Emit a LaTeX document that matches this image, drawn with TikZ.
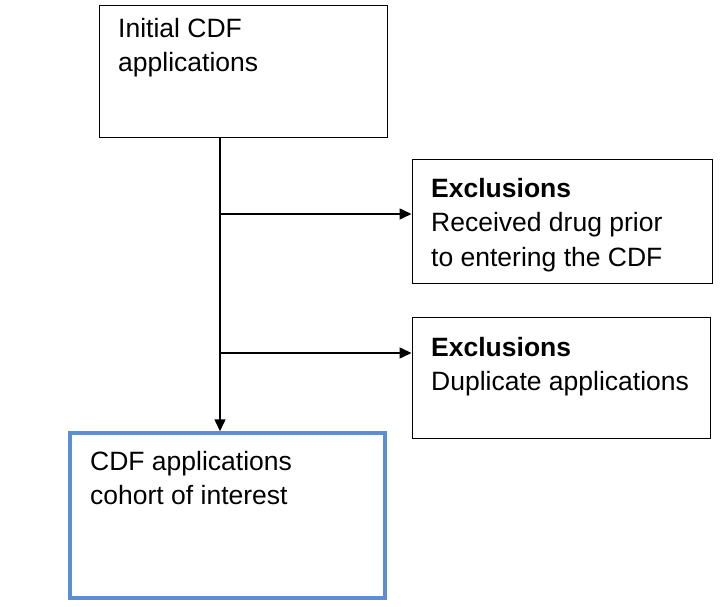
\documentclass[tikz,border=0pt]{standalone}
\usepackage{fontspec}
\setmainfont{Liberation Sans}
\usetikzlibrary{arrows.meta}
\begin{document}
\begin{tikzpicture}[x=1pt,y=-1pt,
  box/.style={draw=black,line width=1pt,inner sep=0pt},
  txt/.style={anchor=north west,align=left,inner sep=0pt,font=\fontsize{26.5}{34.5}\selectfont},
  arr/.style={line width=1.5pt,-{Triangle[length=12pt,width=11pt]}}]
\useasboundingbox (0,0) rectangle (721,607);
\node[box,minimum width=288pt,minimum height=132pt] (b1) at (243,72) {};
\node[box,minimum width=300pt,minimum height=123pt] (b2) at (562,221.5) {};
\node[box,minimum width=298pt,minimum height=121pt] (b3) at (561,377.5) {};
\node[draw={rgb,255:red,91;green,143;blue,212},line width=3.5pt,inner sep=0pt,minimum width=315pt,minimum height=165pt] (b4) at (227.5,515.5) {};
\node[txt] (t1) at (118,18) {Initial CDF\\applications};
\node[txt] (t2) at (431,178) {\textbf{Exclusions}\\Received drug prior\\to entering the CDF};
\node[txt] (t3) at (431,337) {\textbf{Exclusions}\\Duplicate applications};
\node[txt] (t4) at (90,451) {CDF applications\\cohort of interest};
\coordinate (s) at (220,138);
\coordinate (j1) at (220,214);
\coordinate (j2) at (220,353);
\draw[arr] (s) -- (s |- b4.north);
\draw[arr] (j1) -- (j1 -| b2.west);
\draw[arr] (j2) -- (j2 -| b3.west);
\end{tikzpicture}
\end{document}
